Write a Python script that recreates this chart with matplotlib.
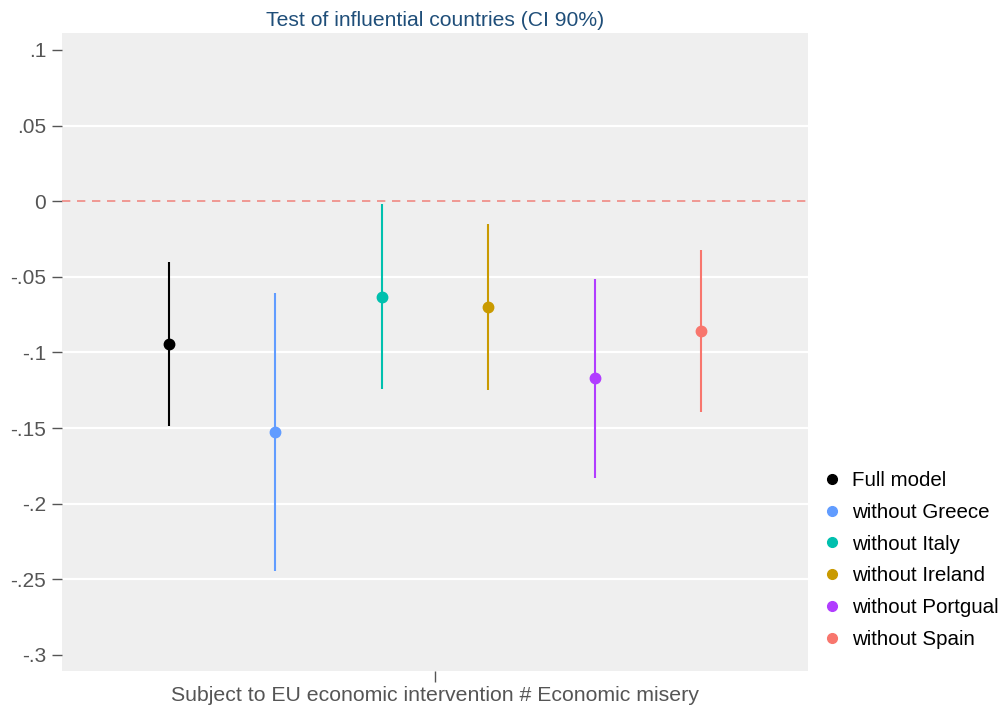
import matplotlib
matplotlib.use("Agg")
import matplotlib.pyplot as plt
from matplotlib.lines import Line2D

plt.rcParams['font.family'] = ['Liberation Sans', 'DejaVu Sans']

models = ["Full model", "without Greece", "without Italy",
          "without Ireland", "without Portgual", "without Spain"]
estimates = [-0.0946, -0.1528, -0.0635, -0.0701, -0.1170, -0.0860]
ci_low = [-0.1488, -0.2447, -0.1243, -0.1250, -0.1832, -0.1396]
ci_high = [-0.0403, -0.0608, -0.0020, -0.0152, -0.0516, -0.0324]
colors = ["#000000", "#619CFF", "#00C0AE", "#C99A00", "#B13DFF", "#F8766D"]
offsets = [-2.5, -1.5, -0.5, 0.5, 1.5, 2.5]

yticks = [0.1, 0.05, 0, -0.05, -0.1, -0.15, -0.2, -0.25, -0.3]
ytick_labels = [".1", ".05", "0", "-.05", "-.1", "-.15", "-.2", "-.25", "-.3"]

fig = plt.figure(figsize=(10.08, 7.11), dpi=100)
ax = fig.add_axes([62 / 1008, 40 / 711, 746 / 1008, 638 / 711])
ax.set_facecolor("#EFEFEF")

# horizontal grid on interior ticks
for y in [0.05, -0.05, -0.1, -0.15, -0.2, -0.25]:
    ax.axhline(y, color="white", lw=1.6, zorder=1)
ax.axhline(0, color="#F08A84", lw=1.2, ls=(0, (5, 4)), zorder=2)

step = 0.1427
handles = []
for name, est, lo, hi, col, off in zip(models, estimates, ci_low, ci_high, colors, offsets):
    x = off * step
    ax.vlines(x, lo, hi, color=col, lw=1.5, zorder=3)
    ax.plot([x], [est], "o", color=col, ms=7.5, zorder=4)
    handles.append(Line2D([], [], ls="none", marker="o", color=col, ms=7, label=name))

ax.set_xlim(-0.5, 0.5)
ax.set_ylim(-0.3106, 0.1112)
ax.set_yticks(yticks)
ax.set_yticklabels(ytick_labels)
ax.set_xticks([0])
ax.set_xticklabels(["Subject to EU economic intervention # Economic misery"])

for s in ax.spines.values():
    s.set_visible(False)
ax.tick_params(axis="y", length=7.2, width=1, color="#555555", labelcolor="#555555",
               labelsize=15, pad=4.3)
ax.tick_params(axis="x", length=8, width=1, color="#555555", labelcolor="#555555",
               labelsize=15.3, pad=3)

ax.set_title("Test of influential countries (CI 90%)", color="#1F4E79",
             fontsize=15.2, pad=5)

fig.legend(handles=handles, loc="center left", bbox_to_anchor=(811 / 1008, 1 - 560 / 711),
           frameon=False, fontsize=14.8, handletextpad=0.5, labelspacing=0.62,
           handlelength=1.0, borderpad=0)

fig.savefig("out.png", dpi=100)
